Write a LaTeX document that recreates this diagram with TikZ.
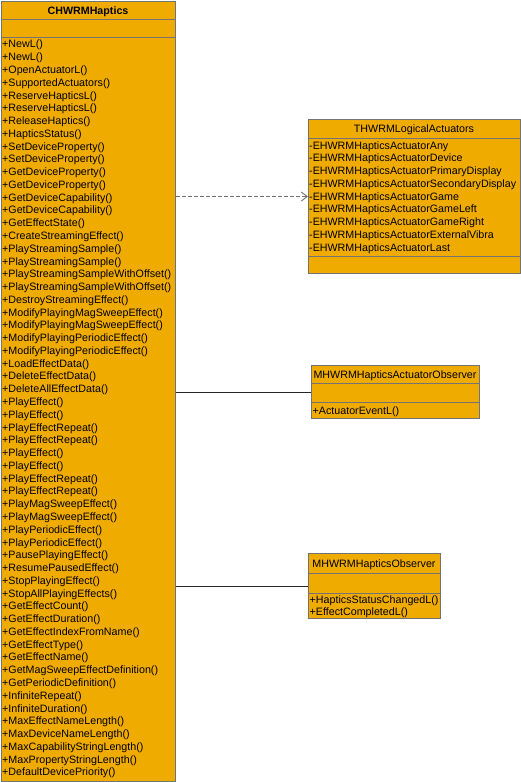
\documentclass[tikz,border=0pt]{standalone}
\usepackage{fontspec}
\setmainfont{Liberation Sans}
\usetikzlibrary{arrows.meta}
\definecolor{boxfill}{RGB}{240,171,0}
\definecolor{boxline}{RGB}{115,115,115}

\begin{document}
\begin{tikzpicture}[x=1pt,y=-1pt]
      \useasboundingbox (0,0) rectangle (521,782);
      \tikzset{C/.style = {draw=boxline, fill=boxfill, line width=1pt, inner sep=0pt, anchor=north west}}
      \tikzset{T/.style = {inner sep=0pt, anchor=base west, text=black, font=\fontsize{10.7}{12.8}\selectfont}}
      \tikzset{N/.style = {T, anchor=base}}
      \tikzset{D/.style = {draw=boxline, line width=1pt}}
      \tikzset{E/.style = {draw=black!85, line width=0.9pt}}
      % class boxes
      \node[C, minimum width=174pt, minimum height=780pt](haptics) at (1,1) {};
      \node[C, minimum width=212pt, minimum height=154pt](logical) at (308,119) {};
      \node[C, minimum width=168pt, minimum height=53pt](actobs) at (311,365) {};
      \node[C, minimum width=132pt, minimum height=65pt](hapobs) at (308,553) {};
      % compartments
      \draw[D] (1,19) -- (175,19);
      \draw[D] (1,37) -- (175,37);
      \draw[D] (308,138) -- (520,138);
      \draw[D] (308,256) -- (520,256);
      \draw[D] (311,383) -- (479,383);
      \draw[D] (311,402) -- (479,402);
      \draw[D] (308,573) -- (440,573);
      \draw[D] (308,593) -- (440,593);
      % names
      \node[N, font=\fontsize{10.7}{12.8}\selectfont\bfseries](hname) at (88,14) {CHWRMHaptics};
      \node[N](lname) at (414,132) {THWRMLogicalActuators};
      \node[N](aname) at (395,378) {MHWRMHapticsActuatorObserver};
      \node[N](oname) at (374,567) {MHWRMHapticsObserver};
      % operations
      \foreach \op [count=\i] in {NewL, NewL, OpenActuatorL, SupportedActuators, ReserveHapticsL,
        ReserveHapticsL, ReleaseHaptics, HapticsStatus, SetDeviceProperty, SetDeviceProperty,
        GetDeviceProperty, GetDeviceProperty, GetDeviceCapability, GetDeviceCapability,
        GetEffectState, CreateStreamingEffect, PlayStreamingSample, PlayStreamingSample,
        PlayStreamingSampleWithOffset, PlayStreamingSampleWithOffset, DestroyStreamingEffect,
        ModifyPlayingMagSweepEffect, ModifyPlayingMagSweepEffect, ModifyPlayingPeriodicEffect,
        ModifyPlayingPeriodicEffect, LoadEffectData, DeleteEffectData, DeleteAllEffectData,
        PlayEffect, PlayEffect, PlayEffectRepeat, PlayEffectRepeat, PlayEffect, PlayEffect,
        PlayEffectRepeat, PlayEffectRepeat, PlayMagSweepEffect, PlayMagSweepEffect,
        PlayPeriodicEffect, PlayPeriodicEffect, PausePlayingEffect, ResumePausedEffect,
        StopPlayingEffect, StopAllPlayingEffects, GetEffectCount, GetEffectDuration,
        GetEffectIndexFromName, GetEffectType, GetEffectName, GetMagSweepEffectDefinition,
        GetPeriodicDefinition, InfiniteRepeat, InfiniteDuration, MaxEffectNameLength,
        MaxDeviceNameLength, MaxCapabilityStringLength, MaxPropertyStringLength,
        DefaultDevicePriority}
        \node[T](op\i) at (2,35.2+12.77*\i) {+\op()};
      \foreach \act [count=\i] in {Any, Device, PrimaryDisplay, SecondaryDisplay, Game,
        GameLeft, GameRight, ExternalVibra, Last}
        \node[T](act\i) at (309,136.3+12.75*\i) {-EHWRMHapticsActuator\act};
      \node[T](aop1) at (312.5,414) {+ActuatorEventL()};
      \node[T](oop1) at (309.5,603) {+HapticsStatusChangedL()};
      \node[T](oop2) at (309.5,615) {+EffectCompletedL()};
      % relations
      \draw[E, draw=boxline, dash pattern=on 4pt off 2pt, -{Straight Barb[length=6pt,width=9pt]}]
        (haptics.east |- logical.west) -- (logical.west);
      \draw[E](haptics.east |- actobs.west) -- (actobs.west);
      \draw[E](haptics.east |- hapobs.west) -- (hapobs.west);
    \end{tikzpicture}
\end{document}
